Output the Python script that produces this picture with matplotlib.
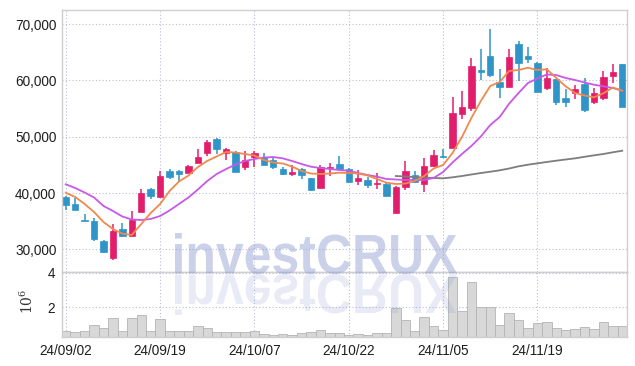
import numpy as np
import matplotlib
matplotlib.use("Agg")
import matplotlib.pyplot as plt
from matplotlib import font_manager
from matplotlib.textpath import TextPath
from matplotlib.patches import PathPatch
from matplotlib.font_manager import FontProperties
from matplotlib.transforms import Affine2D, IdentityTransform

# trading days (Sep 2 - Dec 2, 2024)
dates = ["24/09/02", "24/09/03", "24/09/04", "24/09/05", "24/09/06", "24/09/09", "24/09/10",
         "24/09/11", "24/09/12", "24/09/13", "24/09/19", "24/09/20", "24/09/23", "24/09/24",
         "24/09/25", "24/09/26", "24/09/27", "24/09/30", "24/10/02", "24/10/04", "24/10/07",
         "24/10/08", "24/10/10", "24/10/11", "24/10/14", "24/10/15", "24/10/16", "24/10/17",
         "24/10/18", "24/10/21", "24/10/22", "24/10/23", "24/10/24", "24/10/25", "24/10/28",
         "24/10/29", "24/10/30", "24/10/31", "24/11/01", "24/11/04", "24/11/05", "24/11/06",
         "24/11/07", "24/11/08", "24/11/11", "24/11/12", "24/11/13", "24/11/14", "24/11/15",
         "24/11/18", "24/11/19", "24/11/20", "24/11/21", "24/11/22", "24/11/25", "24/11/26",
         "24/11/27", "24/11/28", "24/11/29", "24/12/02"]

opens = [39350, 38050, 35150, 35100, 31500, 28500, 33600, 32400, 36700, 40700,
         39350, 43900, 43900, 43500, 45400, 47050, 49550, 47150, 47300, 44550,
         46450, 46350, 45850, 44300, 43450, 44300, 42600, 40850, 44400, 45200,
         44200, 42200, 42300, 41550, 41600, 36400, 41000, 43150, 41550, 44800,
         46450, 48050, 54000, 55150, 61850, 64300, 59700, 58850, 66400, 64300,
         63000, 58600, 60250, 56900, 57700, 59350, 56100, 56900, 60800, 62900]
highs = [39450, 39050, 36200, 35500, 31650, 34450, 34600, 36800, 40650, 40900,
         43950, 44200, 44100, 45000, 47750, 49400, 49750, 47950, 47500, 47500,
         47500, 47050, 46200, 44550, 45000, 44450, 42600, 44900, 45400, 46550,
         44450, 44100, 42900, 43600, 42000, 41250, 45750, 43950, 46200, 47600,
         47900, 57100, 58150, 63900, 65500, 69050, 61950, 65500, 67050, 65850,
         63300, 62250, 60250, 58400, 59150, 60450, 58600, 61700, 62850, 62900]
lows = [37000, 37000, 35000, 31500, 29300, 28100, 32200, 32400, 36600, 38950,
        39350, 42450, 42150, 43500, 45300, 46600, 46900, 45850, 43750, 44100,
        44650, 45050, 44300, 43150, 43000, 42450, 40400, 40850, 43050, 44250,
        42000, 41350, 40950, 40700, 39500, 36400, 40550, 41700, 40150, 44600,
        46300, 48050, 53100, 54600, 60050, 60650, 56800, 58850, 59950, 63150,
        58000, 58300, 55600, 55200, 56700, 54450, 55800, 56500, 59600, 55300]
closes = [37900, 37000, 35000, 31850, 29550, 33250, 32350, 35200, 40050, 39500,
          43000, 42900, 43300, 44800, 46350, 49050, 47750, 47750, 43750, 45850,
          47150, 45050, 44650, 43450, 43750, 43250, 40600, 44600, 44550, 44250,
          42000, 42600, 41450, 41850, 39500, 41000, 43950, 42000, 44800, 46750,
          46350, 54250, 55300, 62550, 61550, 60950, 58850, 64200, 63000, 63750,
          58000, 60350, 56200, 56200, 58400, 54750, 57800, 60550, 61500, 55300]

ma_short = [40050, 39300, 38050, 36630, 34850, 33600, 32800, 32550, 34500, 36450,
            38050, 40350, 42050, 43100, 44600, 45700, 46500, 47280, 47190, 46925,
            46660, 45860, 45420, 45240, 44700, 43910, 43460, 43380, 43460, 43610,
            43550, 43460, 43110, 42490, 41830, 41600, 41690, 42130, 43020, 44350,
            44970, 47100, 49940, 53320, 56330, 59000, 59700, 61660, 61840, 62240,
            61840, 61960, 60420, 58940, 57750, 57310, 56990, 57700, 58730, 58160]
ma_mid = [41550, 40890, 40090, 39200, 37700, 36810, 35830, 35300, 35210, 35390,
          35920, 36900, 38050, 39200, 40620, 42130, 43380, 44260, 45060, 45680,
          46040, 46300, 46390, 46160, 45680, 45150, 44670, 44440, 44260, 44090,
          43960, 43550, 43200, 42900, 42490, 42400, 42310, 42310, 42310, 42670,
          43730, 45420, 46930, 48350, 50030, 52070, 53490, 55850, 57750, 59530,
          60330, 61040, 60950, 60420, 60060, 59620, 59230, 58940, 58640, 58160]
ma_long = [np.nan] * 35 + [43020, 42930, 42840, 42750, 42670, 42610, 42790, 43020, 43290, 43550,
                           43780, 44030, 44350, 44740, 45030, 45270, 45510, 45740, 45950, 46160,
                           46430, 46690, 46930, 47230, 47510]

volume = [0.62, 0.56, 0.62, 0.96, 0.78, 1.37, 0.62, 1.37, 1.55, 0.62,
          1.31, 0.62, 0.62, 0.62, 0.90, 0.78, 0.56, 0.56, 0.56, 0.56,
          0.62, 0.44, 0.37, 0.44, 0.37, 0.50, 0.56, 0.68, 0.50, 0.50,
          0.37, 0.44, 0.37, 0.50, 0.50, 1.96, 1.27, 0.62, 1.43, 0.92,
          0.68, 3.74, 1.75, 3.44, 2.02, 2.02, 0.96, 1.63, 1.27, 0.78,
          1.04, 1.15, 0.78, 0.66, 0.72, 0.84, 0.72, 1.15, 0.90, 0.90]

up_color = "#e21e6c"
down_color = "#2f95c8"
grid_color = "#b9bdd6"
spine_color = "#cfcfcf"
text_color = "#1e1e1e"

plt.rcParams["mathtext.fontset"] = "dejavuserif"

# narrow font for the tick labels if there is one
installed = {f.name for f in font_manager.fontManager.ttflist}
if "Liberation Sans Narrow" in installed:
    label_font, label_size = "Liberation Sans Narrow", 10.5
else:
    label_font, label_size = "Liberation Sans", 9.8

W, H = 635, 366
fig = plt.figure(figsize=(W / 100, H / 100), dpi=100)
ax = fig.add_axes([62 / W, (H - 272) / H, 565 / W, 262 / H])
axv = fig.add_axes([62 / W, (H - 337) / H, 565 / W, 65 / H], sharex=ax)

x = np.arange(len(dates))
o = np.array(opens)
c = np.array(closes)
is_up = c >= o
cols = np.where(is_up, up_color, down_color)

# candles
ax.vlines(x, lows, highs, colors=cols, linewidth=1.1, zorder=3)
body_bottom = np.minimum(o, c)
body_h = np.maximum(np.abs(c - o), 160)
ax.bar(x, body_h, bottom=body_bottom, width=0.68, color=cols, edgecolor=cols,
       linewidth=0.5, zorder=4)

# moving averages
ax.plot(x, ma_long, color="#7d7d7d", linewidth=1.3, zorder=5)
ax.plot(x, ma_mid, color="#c858e8", linewidth=1.3, zorder=5)
ax.plot(x, ma_short, color="#f08a4c", linewidth=1.3, zorder=6)

ax.set_xlim(-0.4, 59.5)
ax.set_ylim(25980, 72490)
ax.set_yticks([30000, 40000, 50000, 60000, 70000])
ax.set_yticklabels(["30,000", "40,000", "50,000", "60,000", "70,000"])
ax.set_xticks(x[::10])
ax.tick_params(axis="x", labelbottom=False, length=0)
ax.tick_params(axis="y", length=0, pad=4, labelsize=label_size, labelcolor=text_color)
for t in ax.get_yticklabels():
    t.set_family(label_font)

# volume
axv.bar(x, volume, width=1.0, color="#d8d8d8", edgecolor="#b4b4b4", linewidth=0.6, zorder=2)
axv.set_ylim(0.25, 4.05)
axv.set_yticks([2, 4])
axv.set_yticklabels(["2", "4"])
axv.set_xticks(x[::10])
axv.set_xticklabels([dates[i] for i in x[::10]])
axv.tick_params(length=0, labelsize=label_size, labelcolor=text_color)
axv.tick_params(axis="x", pad=5)
axv.tick_params(axis="y", pad=5)
for t in axv.get_xticklabels() + axv.get_yticklabels():
    t.set_family(label_font)
axv.set_ylabel(r"$10^6$", fontsize=10, color="#333333")
axv.yaxis.set_label_coords(-0.046, 0.55)

for a in (ax, axv):
    a.grid(True, color=grid_color, linestyle=(0, (1, 2)), linewidth=0.8, zorder=0)
    a.set_axisbelow(True)
    for s in a.spines.values():
        s.set_color(spine_color)
        s.set_linewidth(1.0)

# watermark with reflection
tp = TextPath((0, 0), "investCRUX", size=10,
              prop=FontProperties(family=["Liberation Sans", "DejaVu Sans"], weight="bold"))
ext = tp.get_extents()
sx = 282 / ext.width
sy = 41 / ext.height
base = H - 274
main_tr = Affine2D().translate(-ext.x0, -ext.y0).scale(sx, sy).translate(175, base)
refl_tr = Affine2D().translate(-ext.x0, -ext.y0).scale(sx, -sy).translate(175, base)
fig.add_artist(PathPatch(main_tr.transform_path(tp), transform=IdentityTransform(),
                         facecolor="#8f9bd2", edgecolor="none", alpha=0.45, zorder=10))
fig.add_artist(PathPatch(refl_tr.transform_path(tp), transform=IdentityTransform(),
                         facecolor="#8f9bd2", edgecolor="none", alpha=0.2, zorder=10))

fig.savefig("out.png", dpi=100)
